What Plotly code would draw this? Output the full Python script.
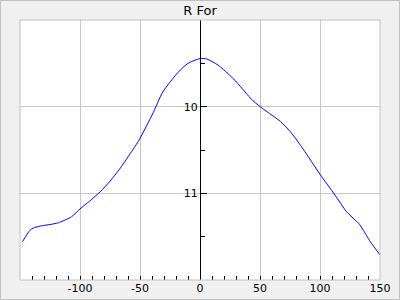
import plotly.graph_objects as go

x_vals = [-148, -142, -139, -132, -125, -118, -107, -100, -92, -83, -75, -67, -60, -51, -39, -31,
          -18, -10, 0, 5.6, 15, 28, 44, 53, 67, 76, 86, 100, 112.5, 122, 133, 142, 150]
y_vals = [11.56, 11.43, 11.40, 11.375, 11.36, 11.34, 11.27, 11.18, 11.09, 10.98, 10.86, 10.72,
          10.58, 10.39, 10.07, 9.83, 9.60, 9.50, 9.445, 9.45, 9.52, 9.68, 9.93, 10.03, 10.17,
          10.30, 10.49, 10.78, 11.02, 11.21, 11.36, 11.56, 11.71]
x_ticks = [-100, -50, 0, 50, 100, 150]
x_tick_text = ["-100", "-50", "0", "50", "100", "150"]
y_ticks = [10, 11]

fig = go.Figure()
fig.add_trace(go.Scatter(x=x_vals, y=y_vals, mode="lines",
                         line=dict(color="#0000ff", width=1, shape="spline", smoothing=0.6),
                         hoverinfo="skip", showlegend=False))

fig.update_layout(
    width=400, height=300,
    margin=dict(l=20, r=20, t=20, b=20, autoexpand=False),
    paper_bgcolor="#f0f0f0", plot_bgcolor="#ffffff",
    font=dict(family="DejaVu Sans", size=11, color="#000000"),
    title=dict(text="R For", x=0.5, xanchor="center", y=0.965, yanchor="middle",
               font=dict(size=13, color="#000000")),
    xaxis=dict(range=[-150, 150], tickvals=x_ticks, ticktext=x_tick_text, ticks="inside",
               ticklen=4, tickcolor="#000000", showgrid=True, gridcolor="#c8c8c8", gridwidth=1,
               zeroline=False, showline=False, automargin=False,
               minor=dict(dtick=10, tick0=0, ticks="inside", ticklen=4, tickcolor="#000000",
                          showgrid=False)),
    yaxis=dict(range=[12, 9], tickvals=y_ticks, ticks="inside", ticklen=6,
               tickcolor="#000000", showgrid=True, gridcolor="#c8c8c8", gridwidth=1,
               zeroline=False, showline=True, linecolor="#000000", linewidth=1,
               anchor="free", position=0.5, automargin=False,
               minor=dict(tickvals=[9.5, 10.5, 11.5], ticks="inside", ticklen=4,
                          tickcolor="#000000", showgrid=False)),
    shapes=[
        dict(type="rect", xref="paper", yref="paper", x0=0, x1=1, y0=0, y1=1,
             line=dict(color="#c0c0c0", width=1), layer="above"),
        dict(type="rect", xref="paper", yref="paper",
             x0=(0.5 - 20) / 360, x1=(399.5 - 20) / 360,
             y0=(280 - 299.5) / 260, y1=(280 - 0.5) / 260,
             line=dict(color="#c0c0c0", width=1), layer="above"),
    ],
)

fig.write_html("out.html")
